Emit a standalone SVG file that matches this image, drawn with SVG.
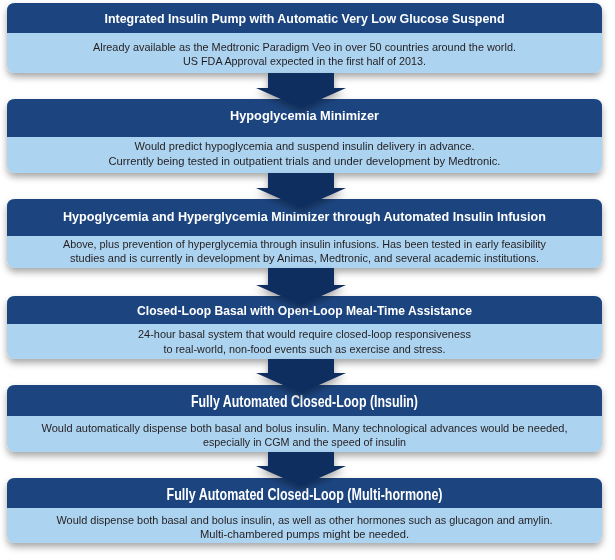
<svg xmlns="http://www.w3.org/2000/svg" width="615" height="560" viewBox="0 0 615 560">
<defs>
<filter id="sh" x="-5%" y="-20%" width="110%" height="150%">
<feDropShadow dx="0" dy="4" stdDeviation="3.5" flood-color="#000" flood-opacity="0.35"/>
</filter>
<style>
.body{fill:#acd3f0}
.head{fill:#1a4480}
.arrow{fill:#0f2d5f}
.t{font-family:"Liberation Sans",Arial,sans-serif;font-weight:bold;font-size:13.5px;fill:#fff;text-anchor:middle}
.tb{font-size:16.5px}
.b{font-family:"Liberation Sans",Arial,sans-serif;font-size:11.5px;fill:#231f20;text-anchor:middle}
</style>
</defs>
<rect width="615" height="560" fill="#fff"/>
<g id="node1" filter="url(#sh)">
<rect x="7" y="3" width="595" height="70" rx="8" class="body"/>
<path d="M7,33 V11 Q7,3 15,3 H594 Q602,3 602,11 V33 Z" class="head"/>
<text x="304.5" y="22.5" class="t" textLength="400" lengthAdjust="spacingAndGlyphs">Integrated Insulin Pump with Automatic Very Low Glucose Suspend</text>
<text x="304.5" y="51" class="b" textLength="423" lengthAdjust="spacingAndGlyphs">Already available as the Medtronic Paradigm Veo in over 50 countries around the world.</text>
<text x="304.5" y="65" class="b" textLength="243" lengthAdjust="spacingAndGlyphs">US FDA Approval expected in the first half of 2013.</text>
</g>
<g id="node2" filter="url(#sh)">
<rect x="7" y="99" width="595" height="74" rx="8" class="body"/>
<path d="M7,137 V107 Q7,99 15,99 H594 Q602,99 602,107 V137 Z" class="head"/>
<text x="304.5" y="120" class="t" textLength="149" lengthAdjust="spacingAndGlyphs">Hypoglycemia Minimizer</text>
<text x="304.5" y="150" class="b" textLength="340" lengthAdjust="spacingAndGlyphs">Would predict hypoglycemia and suspend insulin delivery in advance.</text>
<text x="304.5" y="165" class="b" textLength="392" lengthAdjust="spacingAndGlyphs">Currently being tested in outpatient trials and under development by Medtronic.</text>
</g>
<g id="node3" filter="url(#sh)">
<rect x="7" y="199" width="595" height="69" rx="8" class="body"/>
<path d="M7,236 V207 Q7,199 15,199 H594 Q602,199 602,207 V236 Z" class="head"/>
<text x="304.5" y="220.5" class="t" textLength="483" lengthAdjust="spacingAndGlyphs">Hypoglycemia and Hyperglycemia Minimizer through Automated Insulin Infusion</text>
<text x="304.5" y="248" class="b" textLength="483" lengthAdjust="spacingAndGlyphs">Above, plus prevention of hyperglycemia through insulin infusions. Has been tested in early feasibility</text>
<text x="304.5" y="262" class="b" textLength="469" lengthAdjust="spacingAndGlyphs">studies and is currently in development by Animas, Medtronic, and several academic institutions.</text>
</g>
<g id="node4" filter="url(#sh)">
<rect x="7" y="296" width="595" height="63" rx="8" class="body"/>
<path d="M7,324 V304 Q7,296 15,296 H594 Q602,296 602,304 V324 Z" class="head"/>
<text x="304.5" y="314.5" class="t" textLength="335" lengthAdjust="spacingAndGlyphs">Closed-Loop Basal with Open-Loop Meal-Time Assistance</text>
<text x="304.5" y="338" class="b" textLength="333" lengthAdjust="spacingAndGlyphs">24-hour basal system that would require closed-loop responsiveness</text>
<text x="304.5" y="353" class="b" textLength="282" lengthAdjust="spacingAndGlyphs">to real-world, non-food events such as exercise and stress.</text>
</g>
<g id="node5" filter="url(#sh)">
<rect x="7" y="385" width="595" height="67" rx="8" class="body"/>
<path d="M7,416 V393 Q7,385 15,385 H594 Q602,385 602,393 V416 Z" class="head"/>
<text x="304.5" y="407" class="t tb" textLength="227" lengthAdjust="spacingAndGlyphs">Fully Automated Closed-Loop (Insulin)</text>
<text x="304.5" y="432" class="b" textLength="526" lengthAdjust="spacingAndGlyphs">Would automatically dispense both basal and bolus insulin. Many technological advances would be needed,</text>
<text x="304.5" y="446" class="b" textLength="203" lengthAdjust="spacingAndGlyphs">especially in CGM and the speed of insulin</text>
</g>
<g id="node6" filter="url(#sh)">
<rect x="7" y="478" width="595" height="65" rx="8" class="body"/>
<path d="M7,508 V486 Q7,478 15,478 H594 Q602,478 602,486 V508 Z" class="head"/>
<text x="304.5" y="500" class="t tb" textLength="276" lengthAdjust="spacingAndGlyphs">Fully Automated Closed-Loop (Multi-hormone)</text>
<text x="304.5" y="524" class="b" textLength="496" lengthAdjust="spacingAndGlyphs">Would dispense both basal and bolus insulin, as well as other hormones such as glucagon and amylin.</text>
<text x="304.5" y="538" class="b" textLength="209" lengthAdjust="spacingAndGlyphs">Multi-chambered pumps might be needed.</text>
</g>
<g id="connectors" class="arrow" filter="url(#sh)">
<polygon points="268,73 334,73 334,88 346,88 301,108 256,88 268,88"/>
<polygon points="268,173 334,173 334,188 346,188 301,208 256,188 268,188"/>
<polygon points="268,268 334,268 334,285 346,285 301,305 256,285 268,285"/>
<polygon points="268,359 334,359 334,373 346,373 301,393 256,373 268,373"/>
<polygon points="268,452 334,452 334,466 346,466 301,486 256,466 268,466"/>
</g>
</svg>
